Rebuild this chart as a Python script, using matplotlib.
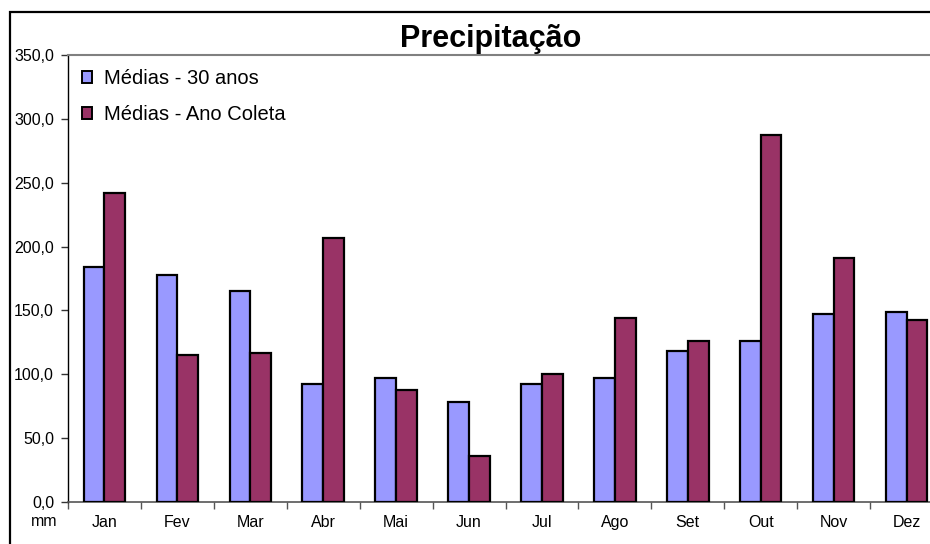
import matplotlib
matplotlib.use("Agg")
import matplotlib.pyplot as plt
from matplotlib.patches import Rectangle
import numpy as np

plt.rcParams['font.family'] = ['Liberation Sans', 'DejaVu Sans']

months = ["Jan", "Fev", "Mar", "Abr", "Mai", "Jun", "Jul", "Ago", "Set", "Out", "Nov", "Dez"]
medias_30 = [184.0, 177.7, 165.5, 92.4, 96.8, 78.6, 92.4, 96.8, 118.2, 126.1, 147.2, 149.0]
medias_coleta = [241.7, 115.1, 116.7, 206.5, 87.7, 36.0, 100.0, 143.8, 126.1, 287.4, 191.3, 142.8]
yticks = [0, 50, 100, 150, 200, 250, 300, 350]
ytick_labels = ["0,0", "50,0", "100,0", "150,0", "200,0", "250,0", "300,0", "350,0"]

W, H = 930, 544
fig = plt.figure(figsize=(W / 100, H / 100), dpi=100)
ax = fig.add_axes([68 / W, 1 - 502 / H, 875 / W, (502 - 55) / H])

x = np.arange(len(months)) + 0.5
bw = 0.285
b1 = ax.bar(x - bw / 2, medias_30, bw, color="#9999FF", edgecolor="black", linewidth=1.6,
            label="Médias - 30 anos", zorder=3)
b2 = ax.bar(x + bw / 2, medias_coleta, bw, color="#993366", edgecolor="black", linewidth=1.6,
            label="Médias - Ano Coleta", zorder=3)

ax.set_xlim(0, 12)
ax.set_ylim(0, 350)
ax.set_yticks(yticks)
ax.set_yticklabels(ytick_labels)
ax.set_xticks(np.arange(0, 13), minor=False)
ax.set_xticklabels([])
ax.set_xticks(x, minor=True)
ax.set_xticklabels(months, minor=True)
ax.tick_params(axis='x', which='minor', length=0, pad=18, labelsize=11.5)
for lbl in ax.get_xticklabels(minor=True):
    lbl.set_va('baseline')
ax.tick_params(axis='x', which='major', length=5, width=1, direction='out', color='#555555')
ax.tick_params(axis='y', length=5, width=1, direction='out', pad=5, labelsize=11.5, color='#333333')

ax.spines['right'].set_visible(False)
ax.spines['top'].set_color('#808080')
ax.spines['top'].set_linewidth(1.5)
ax.spines['left'].set_color('black')
ax.spines['left'].set_linewidth(1.0)
ax.spines['bottom'].set_color('#555555')
ax.spines['bottom'].set_linewidth(1.2)

leg = ax.legend(loc='upper left', bbox_to_anchor=(0.0, 1.0), frameon=False,
                fontsize=14.5, handlelength=0.5, handleheight=0.5, handletextpad=0.6,
                labelspacing=0.85, borderaxespad=0.3, borderpad=0.4)
for h in leg.legend_handles:
    h.set_linewidth(1.4)

fig.text(491 / W, 1 - 47 / H, "Precipitação", ha='center', va='baseline',
         fontsize=22, fontweight='bold')
fig.text(44 / W, 1 - 522 / H, "mm", ha='center', va='center', fontsize=11.5)

frame = Rectangle((10 / W, -0.1), 1.2, 1.1 - 12 / H, transform=fig.transFigure,
                  fill=False, edgecolor='black', linewidth=1.6, clip_on=False)
fig.patches.append(frame)

fig.savefig("out.png", dpi=100)
